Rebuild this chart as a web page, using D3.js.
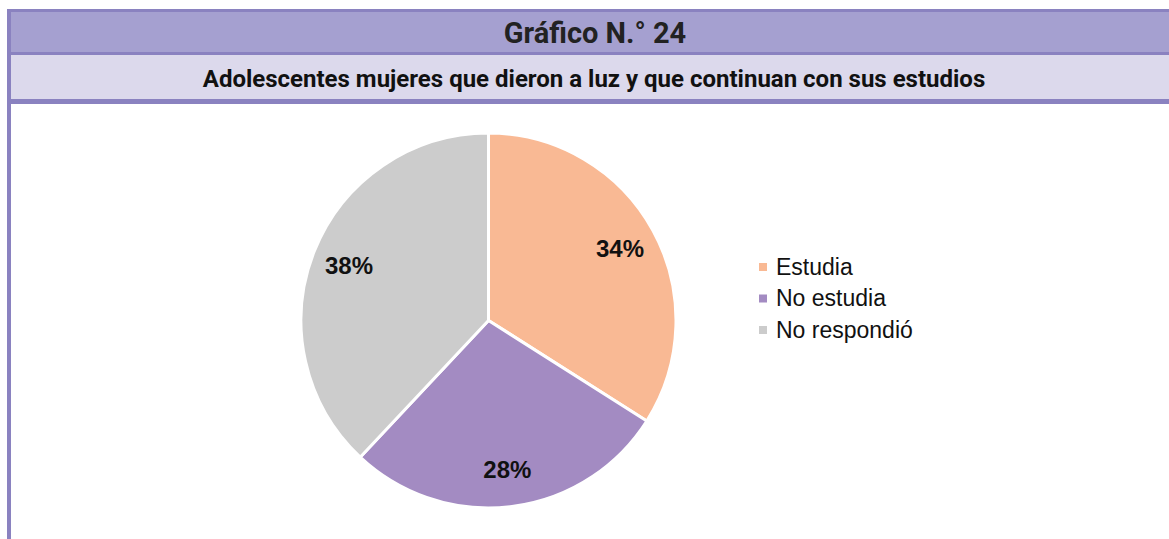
<!DOCTYPE html>
<html>
<head>
<meta charset="utf-8">
<script src="https://cdn.jsdelivr.net/npm/d3@7"></script>
<style>
  html, body { margin: 0; padding: 0; background: #fff; }
  svg { display: block; }
</style>
</head>
<body>
<div id="chart"></div>
<script>
const title = "Gráfico N.° 24";
const subtitle = "Adolescentes mujeres que dieron a luz y que continuan con sus estudios";
const categories = ["Estudia", "No estudia", "No respondió"];
const values = [34, 28, 38];
const colors = ["#f9b994", "#a38bc2", "#cccccc"];

const width = 1169;
const height = 539;

const svg = d3.select("#chart")
  .append("svg")
  .attr("width", width)
  .attr("height", height);

// header frame
const frameColor = "#8a82c0";
svg.append("rect").attr("x", 7).attr("y", 9).attr("width", 1180).attr("height", 95).attr("fill", frameColor);
svg.append("rect").attr("x", 11).attr("y", 12).attr("width", 1180).attr("height", 40).attr("fill", "#a5a0d0");
svg.append("rect").attr("x", 11).attr("y", 55).attr("width", 1180).attr("height", 44).attr("fill", "#dcd9ec");
svg.append("rect").attr("x", 7).attr("y", 100).attr("width", 4).attr("height", height).attr("fill", frameColor);

svg.append("text")
  .attr("x", 595).attr("y", 43)
  .attr("text-anchor", "middle")
  .style("font-family", "Roboto")
  .style("font-weight", "bold")
  .style("font-size", "29px")
  .attr("fill", "#222")
  .text(title);

svg.append("text")
  .attr("x", 594).attr("y", 87)
  .attr("text-anchor", "middle")
  .style("font-family", "Roboto")
  .style("font-weight", "bold")
  .style("font-size", "24px")
  .attr("fill", "#111")
  .text(subtitle);

// pie
const cx = 488.5, cy = 320.5, radius = 187.5;
const data = categories.map((c, i) => ({ name: c, value: values[i], color: colors[i] }));

const pie = d3.pie().sort(null).value(d => d.value);
const arc = d3.arc().innerRadius(0).outerRadius(radius);
const labelArc = d3.arc().innerRadius(radius * 0.8).outerRadius(radius * 0.8);

const g = svg.append("g").attr("transform", `translate(${cx},${cy})`);

g.selectAll("path")
  .data(pie(data))
  .enter()
  .append("path")
  .attr("d", arc)
  .attr("fill", d => d.data.color)
  .attr("stroke", "#fff")
  .attr("stroke-width", 3)
  .attr("stroke-linejoin", "round");

g.selectAll("text.label")
  .data(pie(data))
  .enter()
  .append("text")
  .attr("class", "label")
  .attr("transform", d => `translate(${labelArc.centroid(d)})`)
  .attr("text-anchor", "middle")
  .attr("dy", "0.36em")
  .style("font-family", "Liberation Sans, Arial")
  .style("font-weight", "bold")
  .style("font-size", "24px")
  .attr("fill", "#111")
  .text(d => d.data.value + "%");

// legend
const legend = svg.append("g").attr("transform", "translate(759,267)");
const row = legend.selectAll("g")
  .data(data)
  .enter()
  .append("g")
  .attr("transform", (d, i) => `translate(0,${i * 31.5})`);

row.append("rect")
  .attr("x", 0).attr("y", -4)
  .attr("width", 8).attr("height", 8)
  .attr("fill", d => d.color);

row.append("text")
  .attr("x", 17).attr("y", 7.5)
  .style("font-family", "Liberation Sans, Arial")
  .style("font-size", "23px")
  .attr("fill", "#111")
  .text(d => d.name);
</script>
</body>
</html>
